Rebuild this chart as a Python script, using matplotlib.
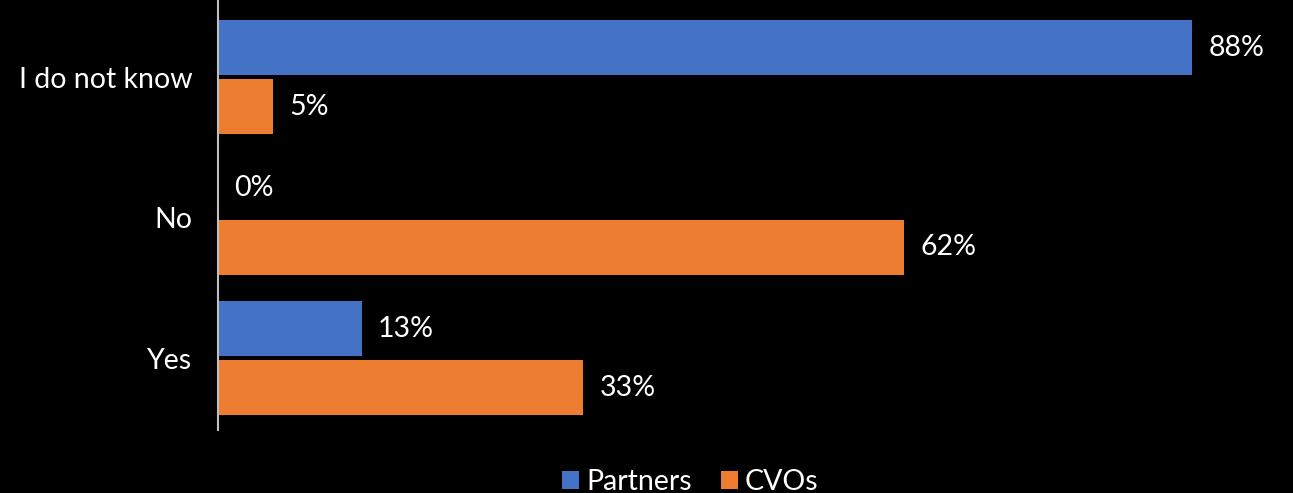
import matplotlib.pyplot as plt
import numpy as np

plt.rcParams['font.family'] = ['Lato', 'DejaVu Sans']

categories = ['Yes', 'No', 'I do not know']
partners = [13, 0, 88]
cvos = [33, 62, 5]

blue = '#4472C4'
orange = '#ED7D31'
fs = 20.5

fig = plt.figure(figsize=(12.93, 4.93), dpi=100, facecolor='black')
ax = fig.add_axes([218 / 1293, 63 / 493, 1075 / 1293, 430 / 493], facecolor='black')

y = np.arange(len(categories))
h = 0.39
gap = 0.015
bp = ax.barh(y + h / 2 + gap, partners, height=h, color=blue, label='Partners')
bc = ax.barh(y - h / 2 - gap, cvos, height=h, color=orange, label='CVOs')

for bars, vals in [(bp, partners), (bc, cvos)]:
    for b, v in zip(bars, vals):
        ax.text(v + 1.45, b.get_y() + b.get_height() / 2, f'{v}%',
                color='white', fontsize=fs, va='center', ha='left')

ax.set_xlim(0, 97.1)
ax.set_ylim(-0.51, 2.55)
ax.set_yticks(y)
ax.set_yticklabels(categories, color='white', fontsize=fs)
ax.tick_params(axis='y', length=0, pad=18.5)
ax.set_xticks([])
for s in ['top', 'right', 'bottom']:
    ax.spines[s].set_visible(False)
ax.spines['left'].set_color('#bfbfbf')
ax.spines['left'].set_linewidth(1.5)

fig.legend(handles=[bp, bc], loc='lower center', bbox_to_anchor=(0.534, -0.057),
           ncol=2, frameon=False, fontsize=fs, labelcolor='white',
           handlelength=0.6, handleheight=0.6, handletextpad=0.25, columnspacing=1.0)

fig.savefig('out.png', dpi=100, facecolor='black')
